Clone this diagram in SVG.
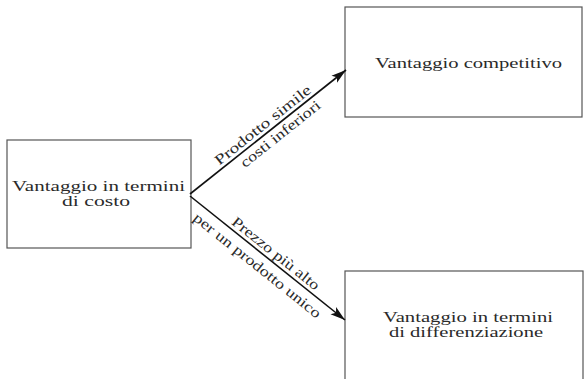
<svg xmlns="http://www.w3.org/2000/svg" width="584" height="379" viewBox="0 0 584 379">
  <defs>
    <marker id="arrow" markerUnits="userSpaceOnUse" markerWidth="16" markerHeight="10" refX="15" refY="5" orient="auto">
      <path d="M0,0.5 L15,5 L0,9.5 L3.5,5 Z" fill="#111"/>
    </marker>
  </defs>
  <style>
    .box { fill: #ffffff; stroke: #555555; stroke-width: 1.2; }
    .label { font-family: "Liberation Serif", "Times New Roman", serif; font-size: 14px; fill: #2a2a2a; text-anchor: middle; }
    .edge-label { font-family: "Liberation Serif", "Times New Roman", serif; font-size: 14.5px; fill: #2a2a2a; text-anchor: middle; }
    .edge { stroke: #111111; stroke-width: 1.6; fill: none; }
  </style>
  <rect width="584" height="379" fill="#ffffff"/>

  <g id="costo">
    <rect class="box" x="7" y="140" width="184" height="108"/>
    <text class="label" x="98.5" y="191" textLength="173" lengthAdjust="spacingAndGlyphs">Vantaggio in termini</text>
    <text class="label" x="96" y="206" textLength="68" lengthAdjust="spacingAndGlyphs">di costo</text>
  </g>

  <g id="competitivo">
    <rect class="box" x="345" y="7" width="237" height="110"/>
    <text class="label" x="468.5" y="68" textLength="187" lengthAdjust="spacingAndGlyphs">Vantaggio competitivo</text>
  </g>

  <g id="differenziazione">
    <rect class="box" x="345" y="271" width="238" height="120"/>
    <text class="label" x="468" y="322" textLength="170" lengthAdjust="spacingAndGlyphs">Vantaggio in termini</text>
    <text class="label" x="466" y="337" textLength="154" lengthAdjust="spacingAndGlyphs">di differenziazione</text>
  </g>

  <g id="connectors">
    <line class="edge" x1="190" y1="194" x2="346" y2="70" marker-end="url(#arrow)"/>
    <line class="edge" x1="190" y1="196" x2="345" y2="320" marker-end="url(#arrow)"/>
    <g transform="translate(190,194) rotate(-38.5)">
      <text class="edge-label" x="100" y="-4" textLength="119" lengthAdjust="spacingAndGlyphs">Prodotto simile</text>
      <text class="edge-label" x="108" y="14" textLength="98" lengthAdjust="spacingAndGlyphs">costi inferiori</text>
    </g>
    <g transform="translate(190,196) rotate(38.66)">
      <text class="edge-label" x="103" y="-4" textLength="108" lengthAdjust="spacingAndGlyphs">Prezzo più alto</text>
      <text class="edge-label" x="96" y="17" textLength="159" lengthAdjust="spacingAndGlyphs">per un prodotto unico</text>
    </g>
  </g>
</svg>
